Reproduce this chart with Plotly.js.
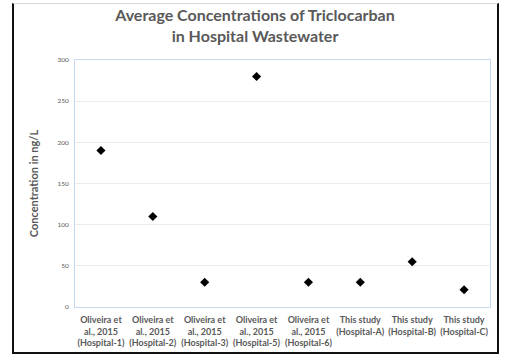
<!DOCTYPE html>
<html><head><meta charset="utf-8">
<script src="https://cdn.plot.ly/plotly-3.0.1.min.js"></script>
<style>
html,body{margin:0;padding:0;background:#fff;}
#wrap{position:relative;width:510px;height:357px;}
#chart{width:510px;height:357px;}
#frame{position:absolute;left:12px;top:3px;width:483px;height:348px;border-left:2px solid #111;border-right:2px solid #111;border-bottom:2px solid #111;border-top:1px solid #d8d8d8;pointer-events:none;}
</style></head>
<body><div id="wrap"><div id="chart"></div><div id="frame"></div></div>
<script>
const categories = [
  "Oliveira et<br>al., 2015<br>(Hospital-1)",
  "Oliveira et<br>al., 2015<br>(Hospital-2)",
  "Oliveira et<br>al., 2015<br>(Hospital-3)",
  "Oliveira et<br>al., 2015<br>(Hospital-5)",
  "Oliveira et<br>al., 2015<br>(Hospital-6)",
  "This study<br>(Hospital-A)",
  "This study<br>(Hospital-B)",
  "This study<br>(Hospital-C)"
];
const concentrations = [190, 110, 30, 280, 30, 30, 55, 21];
const yTicks = [0, 50, 100, 150, 200, 250, 300];

const trace = {
  x: categories.map((c, i) => i),
  y: concentrations,
  type: 'scatter',
  mode: 'markers',
  marker: {symbol: 'diamond', size: 7, color: '#000'},
  hoverinfo: 'none'
};

const layout = {
  width: 510, height: 357,
  margin: {l: 75, r: 20, t: 60, b: 50},
  paper_bgcolor: '#fff', plot_bgcolor: '#fff',
  showlegend: false,
  title: {
    text: 'Average Concentrations of Triclocarban<br>in Hospital Wastewater',
    font: {family: 'Lato, sans-serif', size: 16, color: '#595959', weight: 'bold'},
    x: 0.5, xanchor: 'center', xref: 'container', y: 0.94, yref: 'container', yanchor: 'middle'
  },
  xaxis: {
    range: [-0.5, categories.length - 0.5],
    tickmode: 'array',
    tickvals: categories.map((c, i) => i),
    ticktext: categories,
    showgrid: false, zeroline: false,
    showline: true, linecolor: '#c6d9f0', linewidth: 1, mirror: true,
    ticks: 'outside', ticklen: 4, tickcolor: 'rgba(0,0,0,0)',
    tickfont: {family: 'Lato, sans-serif', size: 9, color: '#595959', weight: 'bold'}
  },
  yaxis: {
    range: [0, 300],
    tickmode: 'array',
    tickvals: yTicks,
    showgrid: true, gridcolor: '#ececec', gridwidth: 1,
    zeroline: false,
    showline: true, linecolor: '#c6d9f0', linewidth: 1, mirror: true,
    ticks: 'outside', ticklen: 4, tickcolor: 'rgba(0,0,0,0)',
    tickfont: {family: 'Lato, sans-serif', size: 6.5, color: '#595959'},
    title: {text: 'Concentration in ng/L', standoff: 16,
      font: {family: 'Lato, sans-serif', size: 11, color: '#595959', weight: 'bold'}}
  }
};

Plotly.newPlot('chart', [trace], layout, {staticPlot: true, displayModeBar: false});
</script></body></html>
